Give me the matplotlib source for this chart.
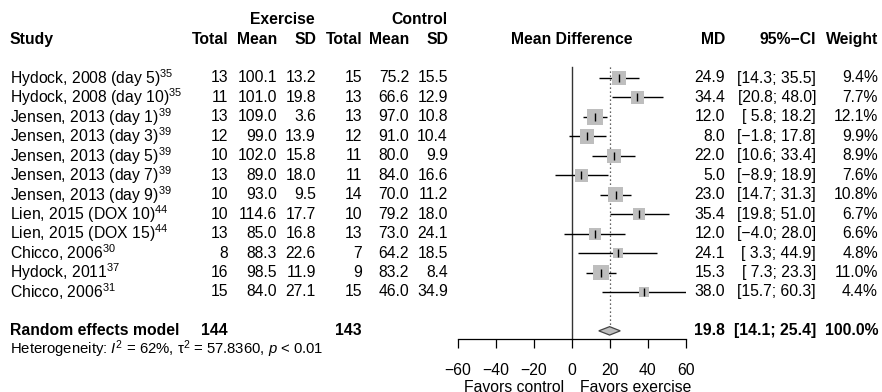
import matplotlib
matplotlib.use("Agg")
import matplotlib.pyplot as plt

plt.rcParams['font.family'] = ['Liberation Sans', 'DejaVu Sans']
plt.rcParams['mathtext.fontset'] = 'custom'
plt.rcParams['mathtext.rm'] = 'Liberation Sans'
plt.rcParams['mathtext.it'] = 'Liberation Sans:italic'
plt.rcParams['mathtext.bf'] = 'Liberation Sans:bold'

# ---- data ----
studies = ["Hydock, 2008 (day 5)", "Hydock, 2008 (day 10)", "Jensen, 2013 (day 1)",
           "Jensen, 2013 (day 3)", "Jensen, 2013 (day 5)", "Jensen, 2013 (day 7)",
           "Jensen, 2013 (day 9)", "Lien, 2015 (DOX 10)", "Lien, 2015 (DOX 15)",
           "Chicco, 2006", "Hydock, 2011", "Chicco, 2006"]
refs = [35, 35, 39, 39, 39, 39, 39, 44, 44, 30, 37, 31]
ex_n = [13, 11, 13, 12, 10, 13, 10, 10, 13, 8, 16, 15]
ex_mean = [100.1, 101.0, 109.0, 99.0, 102.0, 89.0, 93.0, 114.6, 85.0, 88.3, 98.5, 84.0]
ex_sd = [13.2, 19.8, 3.6, 13.9, 15.8, 18.0, 9.5, 17.7, 16.8, 22.6, 11.9, 27.1]
ct_n = [15, 13, 13, 12, 11, 11, 14, 10, 13, 7, 9, 15]
ct_mean = [75.2, 66.6, 97.0, 91.0, 80.0, 84.0, 70.0, 79.2, 73.0, 64.2, 83.2, 46.0]
ct_sd = [15.5, 12.9, 10.8, 10.4, 9.9, 16.6, 11.2, 18.0, 24.1, 18.5, 8.4, 34.9]
md = [24.9, 34.4, 12.0, 8.0, 22.0, 5.0, 23.0, 35.4, 12.0, 24.1, 15.3, 38.0]
ci_lo = [14.3, 20.8, 5.8, -1.8, 10.6, -8.9, 14.7, 19.8, -4.0, 3.3, 7.3, 15.7]
ci_hi = [35.5, 48.0, 18.2, 17.8, 33.4, 18.9, 31.3, 51.0, 28.0, 44.9, 23.3, 60.3]
weight = [9.4, 7.7, 12.1, 9.9, 8.9, 7.6, 10.8, 6.7, 6.6, 4.8, 11.0, 4.4]

pooled_md, pooled_lo, pooled_hi = 19.8, 14.1, 25.4
ex_total, ct_total = 144, 143
het_text = r"Heterogeneity: $I^2$ = 62%, τ$^2$ = 57.8360, $p$ < 0.01"
ticks = [-60, -40, -20, 0, 20, 40, 60]

W, H = 882, 392
FS = 11.3
y0, dy = 78, 19.45          # first study row (px) and row spacing


def row(px):
    return (px - y0) / dy


fig = plt.figure(figsize=(W / 100, H / 100), dpi=100)

# text layer: x in pixels, y in rows
tx = fig.add_axes([0, 0, 1, 1])
tx.set_xlim(0, W)
tx.set_ylim(row(H), row(0))
tx.axis('off')

# forest layer
fx = fig.add_axes([458 / W, (H - 339) / H, 228 / W, 339 / H])
fx.set_xlim(-60, 60)
fx.set_ylim(row(339), row(0))
fx.patch.set_visible(False)
for s in ['top', 'left', 'right']:
    fx.spines[s].set_visible(False)
fx.spines['bottom'].set_linewidth(0.9)
fx.set_yticks([])
fx.set_xticks(ticks)
fx.tick_params(axis='x', direction='out', length=6.5, width=0.9, pad=11, labelsize=FS)

n = len(studies)
rows = list(range(n))
pool_row = n + 1


def fmt(v):
    return f"{v:.1f}".replace('-', '\u2212')


def fmt_ci(a, b):
    return f"[{a:4.1f}; {b:4.1f}]".replace('-', '\u2212')


# headers
tx.text(315, -3, "Exercise", ha='right', va='center', fontsize=FS, fontweight='bold')
tx.text(448, -3, "Control", ha='right', va='center', fontsize=FS, fontweight='bold')
hdr = [(10, "Study", 'left'), (228, "Total", 'right'), (277, "Mean", 'right'),
       (316, "SD", 'right'), (362, "Total", 'right'), (409, "Mean", 'right'),
       (448, "SD", 'right'), (572, "Mean Difference", 'center'), (725, "MD", 'right'),
       (816, "95%\u2212CI", 'right'), (878, "Weight", 'right')]
for x, t, ha in hdr:
    tx.text(x, -2, t, ha=ha, va='center', fontsize=FS, fontweight='bold')

# study rows
for i in rows:
    tx.text(10, i, studies[i] + r"$^{%d}$" % refs[i], ha='left', va='center', fontsize=FS)
    cols = [(228, str(ex_n[i])), (277, fmt(ex_mean[i])), (316, fmt(ex_sd[i])),
            (362, str(ct_n[i])), (409, fmt(ct_mean[i])), (448, fmt(ct_sd[i])),
            (725, fmt(md[i])), (816, fmt_ci(ci_lo[i], ci_hi[i])), (878, f"{weight[i]:.1f}%")]
    for x, t in cols:
        tx.text(x, i, t, ha='right', va='center', fontsize=FS)

# pooled row
tx.text(10, pool_row, "Random effects model", ha='left', va='center', fontsize=FS, fontweight='bold')
for x, t in [(228, str(ex_total)), (362, str(ct_total)), (725, fmt(pooled_md)),
             (816, fmt_ci(pooled_lo, pooled_hi)), (878, "100.0%")]:
    tx.text(x, pool_row, t, ha='right', va='center', fontsize=FS, fontweight='bold')
tx.text(10, row(349), het_text, ha='left', va='center', fontsize=10.7)

# favours labels
tx.text(564, row(388), "Favors control", ha='right', va='center', fontsize=FS)
tx.text(580, row(388), "Favors exercise", ha='left', va='center', fontsize=FS)

# reference lines
fx.plot([0, 0], [row(67), row(339)], color='#333333', lw=1.0, clip_on=False)
dh = 4.2 / dy
fx.plot([pooled_md, pooled_md], [row(67), pool_row - dh], color='#333333', lw=0.9, ls=(0, (1, 2.2)))

# study markers
fx.hlines(rows, ci_lo, ci_hi, color='black', lw=1.0, zorder=2)
fx.scatter(md, rows, marker='s', s=[10.97 * w for w in weight], color='#BEBEBE',
           edgecolors='none', zorder=3)
fx.scatter(md, rows, marker='|', s=36, color='black', linewidths=1.0, zorder=4)

# pooled diamond
fx.fill([pooled_lo, pooled_md, pooled_hi, pooled_md],
        [pool_row, pool_row - dh, pool_row, pool_row + dh],
        facecolor='#BEBEBE', edgecolor='#444444', lw=0.9, zorder=3)

fig.savefig("out.png", dpi=100)
